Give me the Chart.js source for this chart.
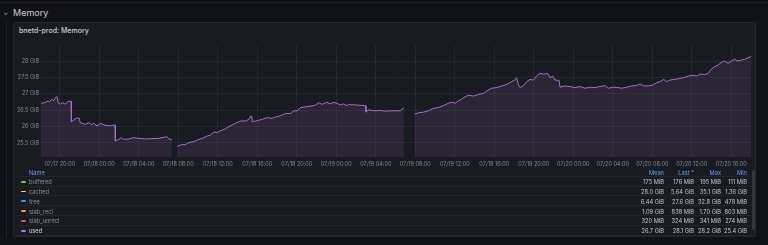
<!DOCTYPE html>
<html>
<head>
<meta charset="utf-8">
<script src="https://cdn.jsdelivr.net/npm/chart.js@4.4.1/dist/chart.umd.min.js"></script>
<style>
  html, body { margin:0; padding:0; background:#111217; width:768px; height:245px; overflow:hidden; font-family: Inter, "Noto Sans", sans-serif; }
  .topline { position:absolute; left:0; top:2px; width:768px; height:1px; background:#202226; }
  .guide { position:absolute; left:6px; top:22px; width:1px; height:216px; background:#202226; }
  .rowtitle { position:absolute; left:13px; top:7px; font-size:9px; color:#ccccdc; line-height:12px; }
  .chev { position:absolute; left:3px; top:8px; font-size:7px; color:#9fa1aa; line-height:10px; }
  .panel { position:absolute; left:13px; top:22px; width:743px; height:215px; background:#181b1f; border:1px solid #24272c; border-radius:2px; box-sizing:border-box; }
  .ptitle { position:absolute; left:19px; top:26px; font-size:7px; font-weight:500; color:#ccccdc; line-height:10px; }
  #wrap { position:absolute; left:14px; top:38px; width:742px; height:134px; }
  .legend { position:absolute; left:17px; top:167px; width:735px; font-size:5.7px; }
  .lrow { position:relative; height:9.8px; border-bottom:1px solid #22252a; box-sizing:border-box; }
  .lrow span { position:absolute; top:1.5px; line-height:7px; white-space:nowrap; }
  .mk { position:absolute; left:3.5px; top:4px; width:5px; height:1.8px; border-radius:1px; }
  .nm { left:12px; color:#8e8f98; }
  .hdr span { color:#6e9fff; }
  .c { text-align:right; color:#c7c8d2; }
  .scroll { position:absolute; left:752px; top:170px; width:3px; height:60px; background:#34373d; border-radius:2px; }
</style>
</head>
<body>
<div class="topline"></div>
<div class="guide"></div>
<div class="chev">&#8964;</div>
<div class="rowtitle">Memory</div>
<div class="panel"></div>
<div class="ptitle">bnetd-prod: Memory</div>
<div id="wrap"><canvas id="c"></canvas></div>
<div class="legend" id="legend"></div>
<div class="scroll"></div>
<script>
// ---- data ----
// hours since 07/17 00:00
const hours = [
  18.1,18.21,18.55,18.82,18.96,19.16,19.39,19.57,19.73,19.8,19.83,20.07,20.3,20.58,20.84,21.11,21.15,21.18,21.42,21.65,21.92,22.0,22.05,22.25,22.6,22.93,23.21,23.44,23.77,24.12,24.45,24.78,25.13,25.56,25.6,25.63,25.97,26.24,26.47,26.98,27.48,27.99,28.67,29.33,30.0,30.52,30.85,31.02,31.35,
  31.6,
  31.9,32.23,32.74,33.07,33.58,33.92,34.43,34.93,35.27,35.6,35.95,36.28,36.78,37.12,37.46,37.8,38.3,38.81,39.14,39.34,39.45,39.48,39.99,40.5,41.0,41.51,41.84,42.35,42.85,43.36,43.69,44.03,44.37,45.05,45.55,45.88,46.22,46.56,47.07,47.4,47.74,48.08,48.41,48.75,48.99,49.25,49.93,50.87,50.95,51.01,51.27,51.78,52.46,52.96,53.64,54.48,54.65,54.85,
  55.4,
  55.93,56.33,56.84,57.34,57.85,58.35,58.86,59.36,59.71,60.04,60.37,60.55,61.05,61.39,61.89,62.4,62.9,63.25,63.75,64.26,64.76,65.1,65.43,65.77,66.04,66.28,66.44,66.61,66.95,67.29,67.62,67.96,68.3,68.63,68.97,69.41,69.65,69.92,70.15,70.56,70.66,71.16,71.67,72.17,72.68,73.18,73.69,74.2,74.7,75.21,75.54,76.05,76.55,76.9,77.4,77.91,78.41,78.75,79.08,79.59,80.09,80.44,80.77,81.17,81.45,81.78,82.29,82.79,83.3,83.63,84.14,84.48,84.81,85.32,85.65,86.0,86.33,86.66,87.11,87.34,87.67,88.01,88.35,88.68,89.03,89.36,89.7,90.04
];
// used memory, GiB (null = no data)
const usedGiB = [
  26.71,26.71,26.74,26.78,26.75,26.83,26.79,26.89,26.91,26.91,26.73,26.69,26.73,26.68,26.77,26.77,26.77,26.15,26.2,26.25,26.26,26.25,26.12,26.1,26.07,26.12,26.06,26.1,26.02,26.1,26.05,26.03,26.02,26.05,26.05,25.56,25.61,25.66,25.61,25.62,25.66,25.64,25.62,25.63,25.64,25.67,25.69,25.63,25.59,
  null,
  25.39,25.44,25.45,25.51,25.54,25.59,25.64,25.71,25.74,25.83,25.82,25.87,25.93,26.0,26.05,26.1,26.17,26.17,26.22,26.32,26.32,26.15,26.18,26.22,26.27,26.25,26.29,26.33,26.4,26.4,26.48,26.48,26.58,26.61,26.63,26.65,26.73,26.68,26.74,26.69,26.74,26.71,26.66,26.69,26.64,26.67,26.66,26.64,26.64,26.44,26.51,26.48,26.49,26.47,26.48,26.48,26.53,26.57,
  null,
  26.38,26.42,26.44,26.48,26.56,26.58,26.64,26.71,26.74,26.71,26.79,26.81,26.91,26.96,26.93,26.98,27.01,27.09,27.17,27.19,27.24,27.27,27.32,27.37,27.42,27.49,27.27,27.19,27.25,27.37,27.44,27.42,27.55,27.62,27.6,27.62,27.49,27.54,27.42,27.41,27.2,27.24,27.22,27.19,27.22,27.17,27.2,27.19,27.22,27.25,27.17,27.2,27.19,27.17,27.2,27.24,27.25,27.3,27.24,27.24,27.27,27.34,27.37,27.44,27.37,27.42,27.44,27.47,27.5,27.54,27.57,27.54,27.6,27.59,27.62,27.76,27.83,27.88,27.98,28.0,27.93,28.0,28.06,28.0,28.03,28.05,28.1,28.15
];
const tickHours = [20,24,28,32,36,40,44,48,52,56,60,64,68,72,76,80,84,88];
const tickLabels = ['07/17 20:00','07/18 00:00','07/18 04:00','07/18 08:00','07/18 12:00','07/18 16:00','07/18 20:00','07/19 00:00','07/19 04:00','07/19 08:00','07/19 12:00','07/19 16:00','07/19 20:00','07/20 00:00','07/20 04:00','07/20 08:00','07/20 12:00','07/20 16:00'];
const yTicks = [25.5,26,26.5,27,27.5,28];
const yLabels = ['25.5 GiB','26 GiB','26.5 GiB','27 GiB','27.5 GiB','28 GiB'];

const seriesNames = ['buffered','cached','free','slab_recl','slab_unrecl','used'];
const seriesColors = ['#73bf69','#fade2a','#5794f2','#ff9830','#f2495c','#b877d9'];
const colHeaders = ['Mean','Last *','Max','Min'];
const statMean = ['175 MiB','28.0 GiB','6.44 GiB','1.09 GiB','320 MiB','26.7 GiB'];
const statLast = ['176 MiB','5.64 GiB','27.6 GiB','838 MiB','324 MiB','28.1 GiB'];
const statMax  = ['195 MiB','35.1 GiB','32.8 GiB','1.70 GiB','341 MiB','28.2 GiB'];
const statMin  = ['111 MiB','1.36 GiB','478 MiB','803 MiB','274 MiB','25.4 GiB'];

// ---- legend table ----
const colRight = [647, 677, 704, 730]; // right edges relative to legend
const lg = document.getElementById('legend');
let html = '<div class="lrow hdr"><span style="left:12px">Name</span>';
colHeaders.forEach((h,i)=>{ html += `<span style="right:${735-colRight[i]}px">${h}</span>`; });
html += '</div>';
seriesNames.forEach((n,i)=>{
  const bright = n === 'used';
  html += `<div class="lrow"><div class="mk" style="background:${seriesColors[i]}"></div><span class="nm" style="${bright?'color:#d8d9e2':''}">${n}</span>`;
  [statMean[i],statLast[i],statMax[i],statMin[i]].forEach((v,j)=>{
    html += `<span class="c" style="right:${735-colRight[j]}px">${v}</span>`;
  });
  html += '</div>';
});
lg.innerHTML = html;

// ---- chart ----
const points = hours.map((h,i)=>({x:h, y:usedGiB[i]}));
const gridColor = 'rgba(204,204,220,0.07)';
const tickColor = 'rgba(204,204,220,0.6)';
new Chart(document.getElementById('c'), {
  type:'line',
  data:{ datasets:[{
    label:'used', data:points, borderColor:'#a66fcc', borderWidth:1,
    backgroundColor:'rgba(184,119,217,0.12)', fill:'start',
    pointRadius:0, tension:0, spanGaps:false
  }]},
  options:{
    responsive:true, maintainAspectRatio:false, animation:false,
    layout:{ padding:{ top:7, right:4, left:0, bottom:0 } },
    plugins:{ legend:{display:false}, tooltip:{enabled:false} },
    scales:{
      x:{ type:'linear', min:18.1, max:90.1,
        afterBuildTicks:(s)=>{ s.ticks = tickHours.map(v=>({value:v})); },
        afterFit:(s)=>{ s.height = 15; },
        grid:{ color:gridColor, drawTicks:false },
        border:{ display:false },
        ticks:{ color:tickColor, font:{family:'Inter', size:5.5}, padding:4, maxRotation:0, autoSkip:false,
          callback:(v)=>{ const i = tickHours.indexOf(v); return i>=0 ? tickLabels[i] : ''; } }
      },
      y:{ type:'linear', min:25.07, max:28.49,
        afterBuildTicks:(s)=>{ s.ticks = yTicks.map(v=>({value:v})); },
        afterFit:(s)=>{ s.width = 27; },
        grid:{ color:gridColor, drawTicks:false },
        border:{ display:false },
        ticks:{ color:tickColor, font:{family:'Inter', size:5.5}, padding:2,
          callback:(v)=>{ const i = yTicks.indexOf(v); return i>=0 ? yLabels[i] : ''; } }
      }
    }
  }
});
</script>
</body>
</html>
